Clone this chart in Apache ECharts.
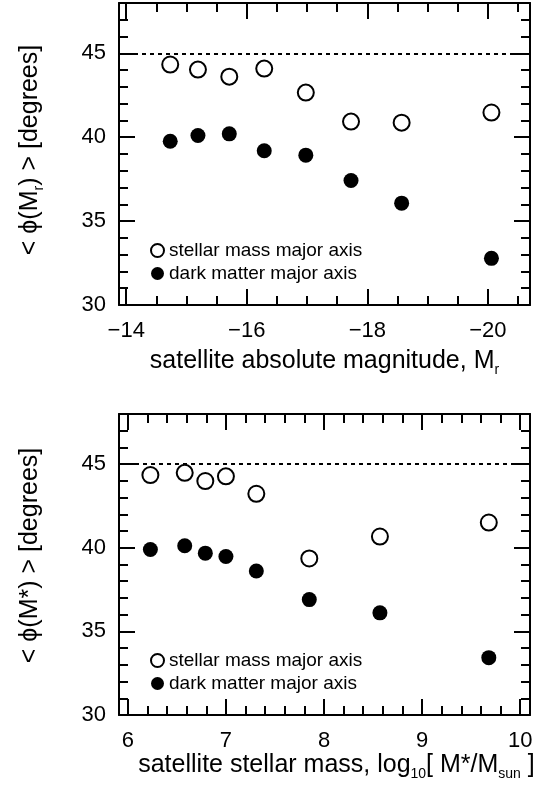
<!DOCTYPE html>
<html>
<head>
<meta charset="utf-8">
<script src="https://cdn.jsdelivr.net/npm/echarts@6/dist/echarts.min.js"></script>
<style>
  html, body { margin: 0; padding: 0; background: #fff; }
  #chart { width: 543px; height: 798px; }
</style>
</head>
<body>
<div id="chart"></div>
<script>
// Mean alignment angle <phi> of satellites, binned by absolute magnitude (upper panel)
const magBins        = [-14.73, -15.19, -15.71, -16.29, -16.98, -17.73, -18.57, -20.06];
const phiStellarMag  = [44.33, 44.03, 43.61, 44.09, 42.66, 40.93, 40.87, 41.47];
const phiDarkMag     = [39.76, 40.10, 40.20, 39.19, 38.93, 37.42, 36.07, 32.78];

// ... and binned by stellar mass, log10(M*/Msun) (lower panel)
const massBins       = [6.23, 6.58, 6.79, 7.00, 7.31, 7.85, 8.57, 9.68];
const phiStellarMass = [44.35, 44.48, 43.99, 44.27, 43.23, 39.36, 40.67, 41.51];
const phiDarkMass    = [39.90, 40.12, 39.68, 39.48, 38.61, 36.90, 36.11, 33.43];

// Isotropic expectation
const isotropicAngle = 45;

// Tick positions
const magMajorTicks  = [-14, -16, -18, -20];
const magMinorTicks  = [-14.5, -15, -15.5, -16.5, -17, -17.5, -18.5, -19, -19.5, -20.5];
const massMajorTicks = [6, 7, 8, 9, 10];
const massMinorTicks = [6.2, 6.4, 6.6, 6.8, 7.2, 7.4, 7.6, 7.8, 8.2, 8.4, 8.6, 8.8, 9.2, 9.4, 9.6, 9.8];
const phiMajorTicks  = [30, 35, 40, 45];
const phiMinorTicks  = [31, 32, 33, 34, 36, 37, 38, 39, 41, 42, 43, 44, 46, 47];

const seriesNames = ['stellar mass major axis', 'dark matter major axis'];

const FONT = '"Liberation Sans", Arial, Helvetica, sans-serif';
const INK = '#000';

const pairs = (xs, ys) => xs.map((x, i) => [x, ys[i]]);
const minusFmt = v => (v < 0 ? '\u2212' + Math.abs(v) : String(v));

const subRich = {
  m:   { fontSize: 25, lineHeight: 25, fontFamily: FONT, color: INK, verticalAlign: 'top' },
  sub: { fontSize: 14, lineHeight: 14, fontFamily: FONT, color: INK, verticalAlign: 'top', padding: [14, 0, 0, 0] }
};

// Four axes per dimension: major+minor ticks on both sides of the frame
function frameAxes(dim, gridIndex, range, majors, minors, label, name) {
  const base = {
    type: 'value', gridIndex, min: range[0], max: range[1], inverse: !!range[2],
    splitLine: { show: false }, silent: true
  };
  const sides = dim === 'x' ? ['bottom', 'top'] : ['left', 'right'];
  const axes = [];
  sides.forEach((side, i) => {
    const main = Object.assign({}, base, {
      position: side,
      axisLine: { show: true, onZero: false, lineStyle: { color: INK, width: 2 } },
      axisTick: { show: true, inside: true, length: 16, customValues: majors, lineStyle: { color: INK, width: 2 } },
      axisLabel: i === 0 ? Object.assign({ customValues: majors }, label) : { show: false }
    });
    if (i === 0 && name) Object.assign(main, name);
    axes.push(main);
    axes.push(Object.assign({}, base, {
      position: side,
      axisLine: { show: false },
      axisTick: { show: true, inside: true, length: 9, customValues: minors, lineStyle: { color: INK, width: 2 } },
      axisLabel: { show: false }
    }));
  });
  return axes;
}

const xLabel = { show: true, fontSize: 22, fontFamily: FONT, color: INK, margin: 15, formatter: minusFmt };
const yLabel = { show: true, fontSize: 22, fontFamily: FONT, color: INK, margin: 13, padding: [6, 0, 0, 0] };

const xAxes = [].concat(
  frameAxes('x', 0, [-20.7, -13.88, true], magMajorTicks, magMinorTicks, xLabel, {
    name: '{m|satellite absolute magnitude, M}{sub|r}',
    nameLocation: 'middle', nameGap: 44, nameTextStyle: { rich: subRich }
  }),
  frameAxes('x', 1, [5.91, 10.1], massMajorTicks, massMinorTicks, xLabel, {
    name: '{m|satellite stellar mass, log}{sub|10}{m|[ M*/M}{sub|sun}{m| ]}',
    nameLocation: 'middle', nameGap: 37, nameTextStyle: { rich: subRich, padding: [0, 0, 0, 24] }
  })
);

const yAxes = [].concat(
  frameAxes('y', 0, [30, 48], phiMajorTicks, phiMinorTicks, yLabel, {
    name: '{m|< \u03D5(M}{sub|r}{m|) > [degrees]}',
    nameLocation: 'middle', nameGap: 76, nameRotate: 90,
    nameTextStyle: { rich: subRich, padding: [0, 0, 0, 8] }
  }),
  frameAxes('y', 1, [30, 48], phiMajorTicks, phiMinorTicks, yLabel, {
    name: '{m|< \u03D5(M*) > [degrees]}',
    nameLocation: 'middle', nameGap: 76, nameRotate: 90,
    nameTextStyle: { rich: subRich, padding: [0, 0, 0, 18] }
  })
);

const openStyle = { color: '#fff', borderColor: INK, borderWidth: 2, opacity: 1 };
const filledStyle = { color: INK, borderWidth: 0, opacity: 1 };

function panelSeries(gridIndex, xs, stellar, dark) {
  const axisIdx = gridIndex * 4;
  return [
    {
      name: seriesNames[0], type: 'scatter', xAxisIndex: axisIdx, yAxisIndex: axisIdx,
      symbol: 'circle', symbolSize: 16, itemStyle: openStyle,
      data: pairs(xs, stellar),
      markLine: {
        silent: true, symbol: ['none', 'none'], label: { show: false },
        lineStyle: { color: INK, width: 2, type: [4, 4] },
        data: [{ yAxis: isotropicAngle }]
      }
    },
    {
      name: seriesNames[1], type: 'scatter', xAxisIndex: axisIdx, yAxisIndex: axisIdx,
      symbol: 'circle', symbolSize: 15, itemStyle: filledStyle,
      data: pairs(xs, dark)
    }
  ];
}

function panelLegend(top) {
  return {
    top, left: 145, orient: 'vertical', itemGap: 4, itemWidth: 13, itemHeight: 13,
    selectedMode: false,
    textStyle: { fontSize: 19, fontFamily: FONT, color: INK },
    data: [
      { name: seriesNames[0], icon: 'circle', itemStyle: openStyle },
      { name: seriesNames[1], icon: 'circle', itemStyle: filledStyle }
    ]
  };
}

const chart = echarts.init(document.getElementById('chart'), null, { renderer: 'canvas' });
chart.setOption({
  animation: false,
  backgroundColor: '#fff',
  grid: [
    { left: 119, top: 3, width: 411, height: 302 },
    { left: 119, top: 414, width: 411, height: 301 }
  ],
  legend: [panelLegend(236), panelLegend(646)],
  xAxis: xAxes,
  yAxis: yAxes,
  series: [].concat(
    panelSeries(0, magBins, phiStellarMag, phiDarkMag),
    panelSeries(1, massBins, phiStellarMass, phiDarkMass)
  )
});
</script>
</body>
</html>
